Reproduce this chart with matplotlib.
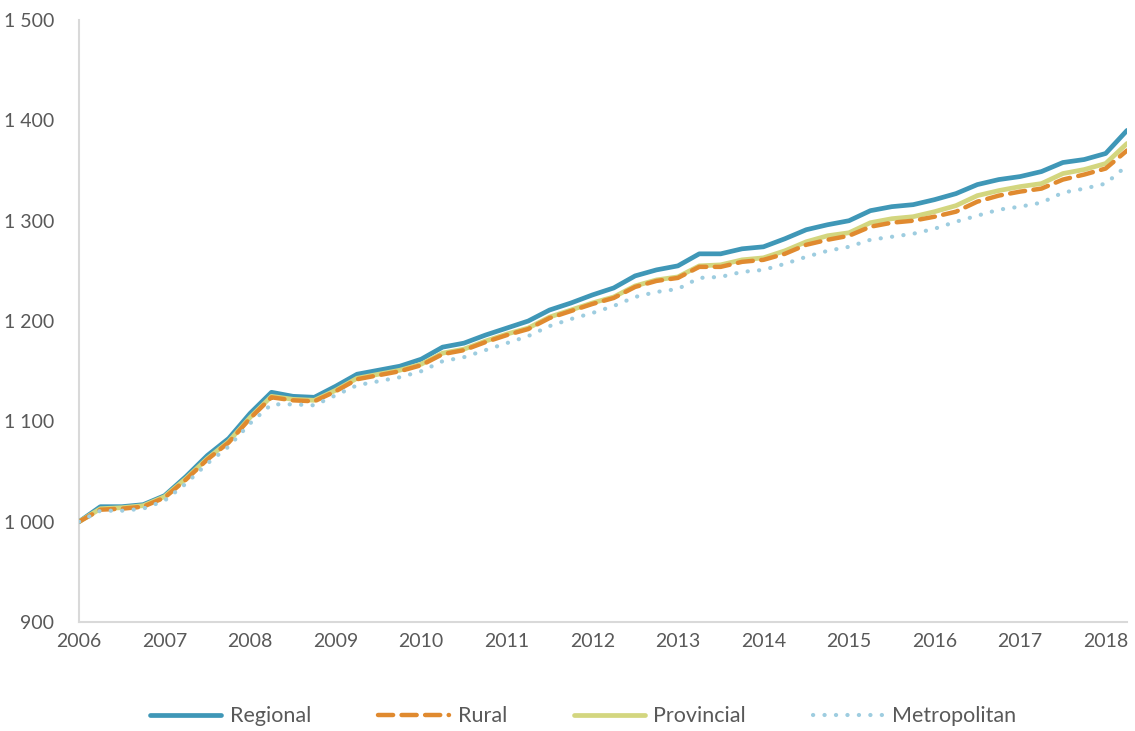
import matplotlib.pyplot as plt
import numpy as np

# quarterly index values, 2006 Q1 .. 2018 Q2
regional = [1000, 1015, 1015, 1017, 1026, 1045, 1066, 1083, 1108, 1129,
            1125, 1124, 1135, 1147, 1151, 1155, 1162, 1174, 1178, 1186,
            1193, 1200, 1211, 1218, 1226, 1233, 1245, 1251, 1255, 1267,
            1267, 1272, 1274, 1282, 1291, 1296, 1300, 1310, 1314, 1316,
            1321, 1327, 1336, 1341, 1344, 1349, 1358, 1361, 1367, 1390]
rural = [1000, 1012, 1013, 1015, 1024, 1042, 1062, 1079, 1103, 1124,
         1121, 1120, 1130, 1142, 1146, 1150, 1156, 1167, 1171, 1179,
         1186, 1192, 1203, 1210, 1217, 1223, 1234, 1240, 1243, 1254,
         1254, 1259, 1261, 1267, 1276, 1281, 1285, 1294, 1298, 1300,
         1304, 1309, 1319, 1325, 1329, 1332, 1341, 1346, 1352, 1370]
provincial = [1000, 1013, 1014, 1016, 1025, 1043, 1063, 1080, 1104, 1125,
              1122, 1121, 1131, 1143, 1147, 1151, 1157, 1168, 1172, 1180,
              1187, 1193, 1204, 1211, 1218, 1224, 1235, 1241, 1244, 1255,
              1256, 1261, 1263, 1270, 1279, 1285, 1288, 1298, 1302, 1304,
              1309, 1315, 1325, 1330, 1334, 1337, 1347, 1351, 1357, 1377]
metropolitan = [1000, 1011, 1011, 1013, 1021, 1038, 1058, 1075, 1098, 1117,
                1117, 1116, 1126, 1136, 1140, 1144, 1150, 1160, 1164, 1171,
                1178, 1185, 1195, 1202, 1208, 1215, 1224, 1229, 1232, 1243,
                1244, 1249, 1251, 1257, 1264, 1270, 1274, 1281, 1284, 1287,
                1292, 1299, 1305, 1311, 1314, 1318, 1328, 1332, 1337, 1355]
years = list(range(2006, 2019))
yticks = [900, 1000, 1100, 1200, 1300, 1400, 1500]

x = 2006 + np.arange(len(regional)) / 4

plt.rcParams['font.family'] = ['Lato', 'DejaVu Sans']
grey = '#595959'

fig = plt.figure(figsize=(11.35, 7.31), dpi=100)
ax = fig.add_axes([0.0696, 0.149, 0.9234, 0.8236])

l1, = ax.plot(x, regional, color='#3f97b7', lw=3.4, solid_capstyle='round', zorder=3)
l3, = ax.plot(x, provincial, color='#d3d67f', lw=3.4, solid_capstyle='round', zorder=4)
l2, = ax.plot(x, rural, color='#e08a2f', lw=3.2, ls=(0, (3.4, 1.9)),
              dash_capstyle='round', zorder=5)
l4, = ax.plot(x, metropolitan, color='#9ecde0', lw=3.0, ls=(0, (0.05, 2.7)),
              dash_capstyle='round', zorder=6)

ax.set_xlim(2006, 2006 + (len(regional) - 1) / 4)
ax.set_ylim(900, 1500)
ax.set_xticks(years)
ax.set_xticklabels([str(y) for y in years])
ax.set_yticks(yticks)
ax.set_yticklabels([f"{v:,}".replace(",", " ") for v in yticks])
ax.tick_params(length=0, labelsize=14, labelcolor=grey)
ax.tick_params(axis='y', pad=18)
ax.tick_params(axis='x', pad=8)

for s in ['top', 'right']:
    ax.spines[s].set_visible(False)
for s in ['left', 'bottom']:
    ax.spines[s].set_color('#d9d9d9')
    ax.spines[s].set_linewidth(1.5)

fig.legend([l1, l2, l3, l4], ["Regional", "Rural", "Provincial", "Metropolitan"],
           loc='center', bbox_to_anchor=(0.514, 0.020), ncol=4, frameon=False,
           fontsize=15.5, labelcolor=grey, handlelength=3.3, columnspacing=3.1,
           handletextpad=0.4)

fig.savefig("out.png", dpi=100)
